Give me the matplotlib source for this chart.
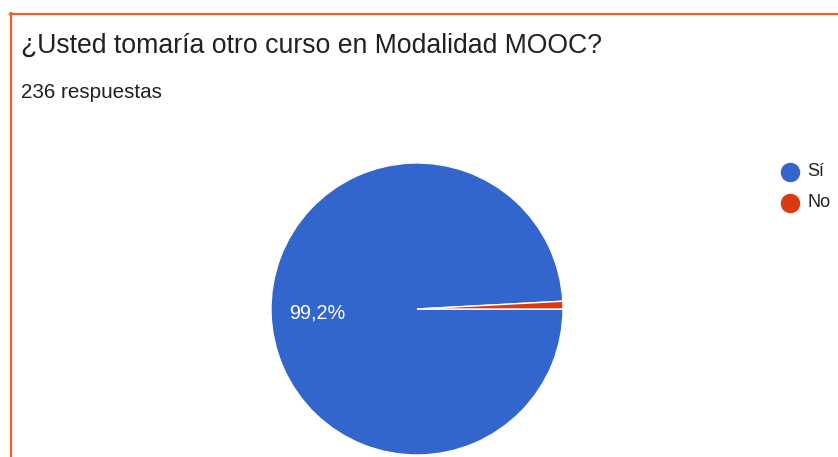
import matplotlib
matplotlib.use("Agg")
import matplotlib.pyplot as plt
from matplotlib.lines import Line2D

title = "¿Usted tomaría otro curso en Modalidad MOOC?"
subtitle = "236 respuestas"
categories = ["Sí", "No"]
counts = [234, 2]
colors = ["#3366CC", "#DC3912"]

W, H = 838, 457
fig = plt.figure(figsize=(W / 100, H / 100), dpi=100)
fig.patch.set_facecolor("white")
FONT = "Liberation Sans"

def fx(px):
    return px / W

def fy(py):
    return 1 - py / H

# border
border = "#E8622F"
fig.add_artist(Line2D([fx(10), 1], [fy(13.5), fy(13.5)], color=border, lw=1.6, transform=fig.transFigure))
fig.add_artist(Line2D([fx(10.5), fx(10.5)], [fy(13), 0], color=border, lw=1.6, transform=fig.transFigure))

fig.text(fx(21), fy(46), title, fontsize=19.2, family=FONT, color="#202124", va="center", ha="left")
fig.text(fx(21), fy(93), subtitle, fontsize=14.9, family=FONT, color="#202124", va="center", ha="left")

cx, cy, r = 417, 309, 146
ax = fig.add_axes([fx(cx - r), fy(cy + r), 2 * r / W, 2 * r / H])

def fmt(p):
    return ("%.1f%%" % p).replace(".", ",") if p > 5 else ""

wedges, texts, autotexts = ax.pie(
    counts, colors=colors, startangle=0, counterclock=False,
    autopct=fmt, pctdistance=0.685,
    wedgeprops=dict(edgecolor="white", linewidth=1.0),
    textprops=dict(color="white", fontsize=14.3, family=FONT),
)
for t in autotexts:
    x, y = t.get_position()
    t.set_position((x, y - 0.012))
ax.set_aspect("equal")
ax.set_xlim(-1, 1)
ax.set_ylim(-1, 1)
ax.axis("off")

# legend
for i, (cat, col) in enumerate(zip(categories, colors)):
    y = 172 + 31 * i
    fig.add_artist(Line2D([fx(790)], [fy(y)], marker="o", markersize=13, color=col, linestyle="none", transform=fig.transFigure))
    fig.text(fx(807), fy(y), cat, fontsize=13, family=FONT, color="#202124", va="center", ha="left")

fig.savefig("out.png", dpi=100, facecolor="white")
